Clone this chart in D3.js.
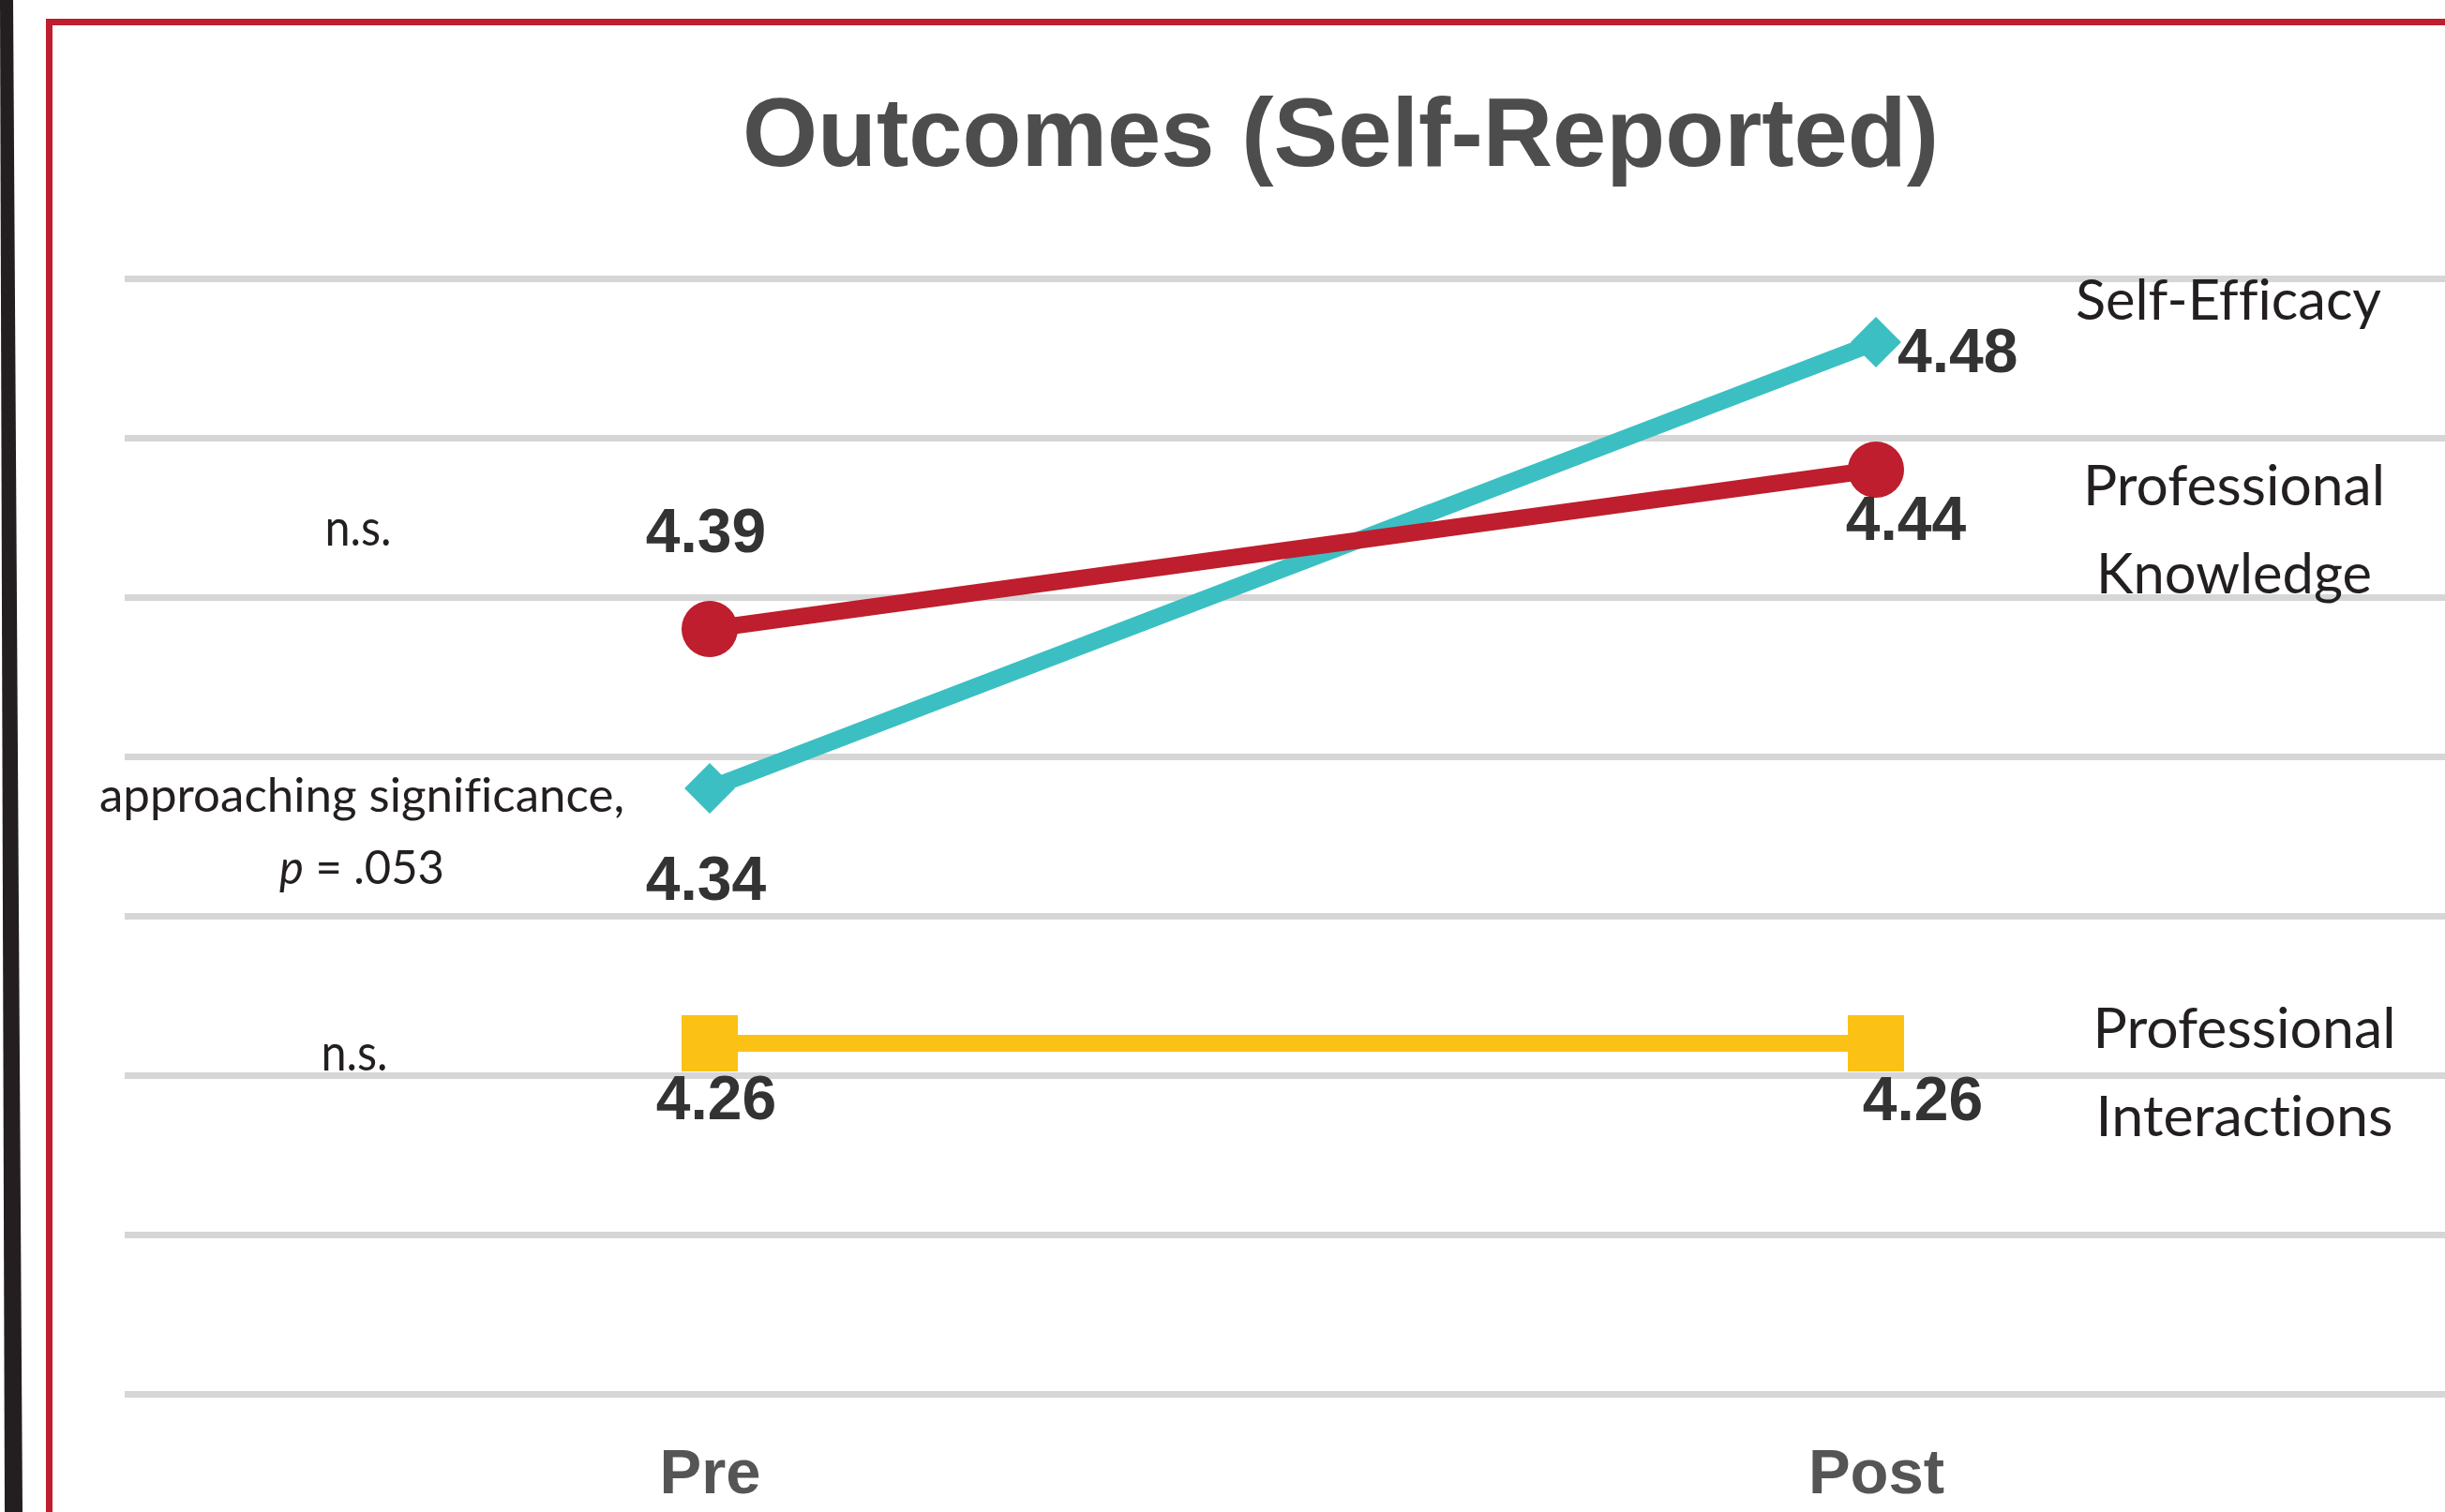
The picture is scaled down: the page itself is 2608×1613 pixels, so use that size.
<!DOCTYPE html>
<html>
<head>
<meta charset="utf-8">
<script src="https://cdn.jsdelivr.net/npm/d3@7"></script>
<style>
  html, body { margin: 0; padding: 0; background: #fff; }
  svg { display: block; }
</style>
</head>
<body>
<div id="chart"></div>
<script>
// values
const categories = ['Pre', 'Post'];
const seriesNames = ['Self-Efficacy', 'Professional Knowledge', 'Professional Interactions'];
const selfEfficacy = [4.34, 4.48];
const professionalKnowledge = [4.39, 4.44];
const professionalInteractions = [4.26, 4.26];
const gridValues = [4.15, 4.20, 4.25, 4.30, 4.35, 4.40, 4.45, 4.50];
const noteTexts = ['n.s.', 'approaching significance,', '= .053', 'n.s.'];
const title = 'Outcomes (Self-Reported)';

const W = 2608, H = 1613;
const plotLeft = 133;

const svg = d3.select('#chart').append('svg')
  .attr('width', W)
  .attr('height', H)
  .style('background', '#fff');

// dark page edge and red frame around the slide
svg.append('path')
  .attr('d', 'M0,0 L14,0 L24,1613 L5,1613 Z')
  .attr('fill', '#231f20');
svg.append('rect')
  .attr('x', 52.5).attr('y', 23.5)
  .attr('width', W).attr('height', H)
  .attr('fill', 'none')
  .attr('stroke', '#be1e2d')
  .attr('stroke-width', 7);

const x = d3.scalePoint().domain(categories).range([757, 2001]);
const y = d3.scaleLinear().domain([4.15, 4.50]).range([1487, 297]);

// gridlines
svg.append('g')
  .attr('transform', `translate(${plotLeft},0)`)
  .call(d3.axisRight(y).tickValues(gridValues).tickSize(W - plotLeft).tickFormat(''))
  .call(g => g.select('.domain').remove())
  .selectAll('line')
  .attr('stroke', '#d6d6d6')
  .attr('stroke-width', 7);

// x axis labels
svg.append('g')
  .attr('transform', 'translate(0,1593)')
  .call(d3.axisBottom(x).tickSize(0).tickPadding(0))
  .call(g => g.select('.domain').remove())
  .selectAll('text')
  .attr('y', 0)
  .attr('dy', 0)
  .attr('fill', '#555')
  .style('font', 'bold 67px "Liberation Sans", Arial, sans-serif');

// title
svg.append('text')
  .attr('x', 1430).attr('y', 177)
  .attr('text-anchor', 'middle')
  .attr('fill', '#4d4d4d')
  .style('font', 'bold 103px "Liberation Sans", Arial, sans-serif')
  .text(title);

const series = [
  {
    name: seriesNames[0], values: selfEfficacy, color: '#3bbfc2',
    symbol: d3.symbolSquare, size: 1450, rotate: 45,
    valueLabels: [{ dx: -4, dy: 119, anchor: 'middle' }, { dx: 23, dy: 32, anchor: 'start' }],
    label: { lines: ['Self-Efficacy'], x: 2377, y: [341], widths: [326] }
  },
  {
    name: seriesNames[1], values: professionalKnowledge, color: '#be1e2d',
    symbol: d3.symbolCircle, size: 2830, rotate: 0,
    valueLabels: [{ dx: -4, dy: -82, anchor: 'middle' }, { dx: 32, dy: 75, anchor: 'middle' }],
    label: { lines: ['Professional', 'Knowledge'], x: 2383, y: [539, 633], widths: [322, 294] }
  },
  {
    name: seriesNames[2], values: professionalInteractions, color: '#fbc115',
    symbol: d3.symbolSquare, size: 3600, rotate: 0,
    valueLabels: [{ dx: 7, dy: 81, anchor: 'middle' }, { dx: 50, dy: 82, anchor: 'middle' }],
    label: { lines: ['Professional', 'Interactions'], x: 2394, y: [1118, 1212], widths: [323, 317] }
  }
];

const line = d3.line()
  .x((d, i) => x(categories[i]))
  .y(d => y(d));

const fmt = d3.format('.2f');

series.forEach(s => {
  const g = svg.append('g');

  g.append('path')
    .datum(s.values)
    .attr('d', line)
    .attr('fill', 'none')
    .attr('stroke', s.color)
    .attr('stroke-width', 18);

  g.selectAll('path.marker')
    .data(s.values)
    .join('path')
    .attr('class', 'marker')
    .attr('transform', (d, i) => `translate(${x(categories[i])},${y(d)}) rotate(${s.rotate})`)
    .attr('d', d3.symbol().type(s.symbol).size(s.size))
    .attr('fill', s.color);
});

// value labels on top of everything
series.forEach(s => {
  svg.append('g').selectAll('text')
    .data(s.values)
    .join('text')
    .attr('x', (d, i) => x(categories[i]) + s.valueLabels[i].dx)
    .attr('y', (d, i) => y(d) + s.valueLabels[i].dy)
    .attr('text-anchor', (d, i) => s.valueLabels[i].anchor)
    .attr('fill', '#333')
    .style('font', 'bold 66px "Liberation Sans", Arial, sans-serif')
    .text(d => fmt(d));

  // series names on the right
  s.label.lines.forEach((t, k) => {
    svg.append('text')
      .attr('x', s.label.x)
      .attr('y', s.label.y[k])
      .attr('text-anchor', 'middle')
      .attr('fill', '#231f20')
      .attr('textLength', s.label.widths[k])
      .attr('lengthAdjust', 'spacingAndGlyphs')
      .style('font', '60px Lato, "Open Sans", sans-serif')
      .style('font-variant-ligatures', 'none')
      .text(t);
  });
});

// significance notes on the left
const notes = [
  { text: noteTexts[0], x: 382, y: 582, width: 71, size: 54 },
  { text: noteTexts[1], x: 386, y: 866, width: 560, size: 50 },
  { text: noteTexts[2], x: 386, y: 943, width: 176, size: 50, italic: 'p' },
  { text: noteTexts[3], x: 378, y: 1142, width: 71, size: 54 }
];

notes.forEach(n => {
  const t = svg.append('text')
    .attr('x', n.x)
    .attr('y', n.y)
    .attr('text-anchor', 'middle')
    .attr('fill', '#231f20')
    .attr('textLength', n.width)
    .attr('lengthAdjust', 'spacingAndGlyphs')
    .style('font', `${n.size}px Lato, "Open Sans", sans-serif`)
    .style('font-variant-ligatures', 'none');
  if (n.italic) {
    t.append('tspan').style('font-style', 'italic').text(n.italic);
    t.append('tspan').text(' ' + n.text);
  } else {
    t.text(n.text);
  }
});
</script>
</body>
</html>
